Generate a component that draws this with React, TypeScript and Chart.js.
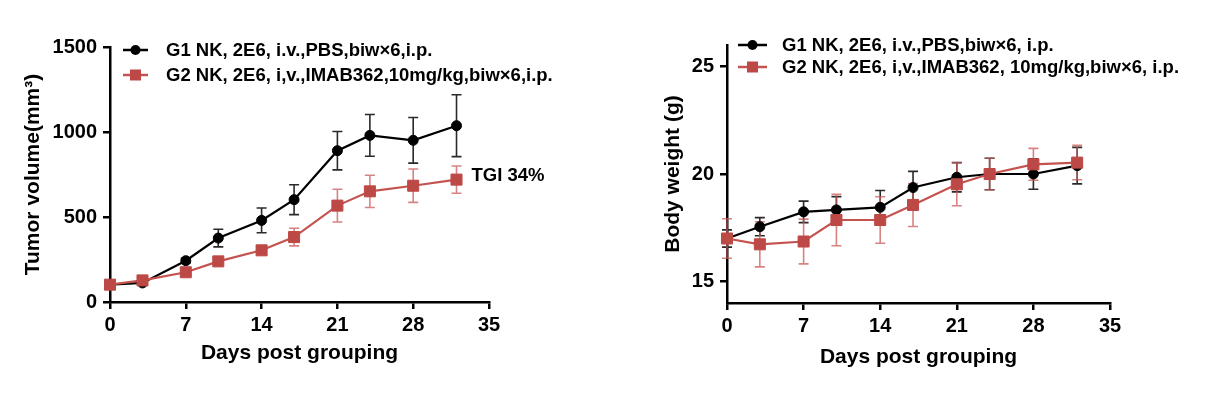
import React, { useEffect, useRef } from "react";
import { Chart, registerables } from "chart.js";

Chart.register(...registerables);

// ---------- data ----------
const DAYS = [0, 3, 7, 10, 14, 17, 21, 24, 28, 32];

const TUMOR_G1 = [102, 112, 243, 376, 480, 602, 890, 980, 951, 1037];
const TUMOR_G1_SEM = [8, 10, 14, 52, 73, 88, 113, 123, 134, 182];
const TUMOR_G2 = [102, 127, 175, 239, 304, 382, 567, 651, 684, 720];
const TUMOR_G2_SEM = [10, 12, 15, 16, 18, 52, 96, 95, 98, 80];

const BODY_G1 = [17.0, 17.55, 18.24, 18.33, 18.45, 19.37, 19.85, 20.0, 20.0, 20.39];
const BODY_G1_SEM = [0.4, 0.42, 0.5, 0.62, 0.78, 0.75, 0.68, 0.73, 0.71, 0.85];
const BODY_G2 = [17.0, 16.73, 16.86, 17.86, 17.86, 18.56, 19.52, 20.0, 20.45, 20.53];
const BODY_G2_SEM = [0.92, 1.05, 1.04, 1.2, 1.08, 1.0, 1.0, 0.73, 0.74, 0.8];

const X_TICKS = [0, 7, 14, 21, 28, 35];
const TUMOR_TICKS = [0, 500, 1000, 1500];
const BODY_TICKS = [15, 20, 25];

const LEFT_G1_LABEL = "G1 NK, 2E6, i.v.,PBS,biw×6,i.p.";
const LEFT_G2_LABEL = "G2 NK, 2E6, i,v.,IMAB362,10mg/kg,biw×6,i.p.";
const RIGHT_G1_LABEL = "G1 NK, 2E6, i.v.,PBS,biw×6, i.p.";
const RIGHT_G2_LABEL = "G2 NK, 2E6, i,v.,IMAB362, 10mg/kg,biw×6, i.p.";

const X_TITLE = "Days post grouping";
const LEFT_Y_TITLE = "Tumor volume(mm³)";
const RIGHT_Y_TITLE = "Body weight (g)";
const TGI_TEXT = "TGI 34%";
const TGI_ANCHOR = { x: 32, y: 740 };

// ---------- styles ----------
const FONT = '"Liberation Sans", Arial, Helvetica, sans-serif';
const BLACK = "#000000";
const RED_LINE = "#C4524F";
const RED_MARK = "#BD4946";
const RED_ERR = "rgba(200,90,88,0.75)";
const BLACK_ERR = "#2a2a2a";

const errorBarPlugin = {
  id: "errorBars",
  beforeDatasetsDraw(chart: any) {
    const { ctx } = chart;
    const xs = chart.scales.x;
    const ys = chart.scales.y;
    chart.data.datasets.forEach((ds: any) => {
      const errs = ds.errors;
      if (!errs) return;
      ctx.save();
      ctx.strokeStyle = ds.errorColor;
      ctx.lineWidth = 1.6;
      ds.data.forEach((p: any, i: number) => {
        const x = xs.getPixelForValue(p.x);
        const yT = ys.getPixelForValue(p.y + errs[i]);
        const yB = ys.getPixelForValue(p.y - errs[i]);
        ctx.beginPath();
        ctx.moveTo(x, yT);
        ctx.lineTo(x, yB);
        ctx.moveTo(x - 5, yT);
        ctx.lineTo(x + 5, yT);
        ctx.moveTo(x - 5, yB);
        ctx.lineTo(x + 5, yB);
        ctx.stroke();
      });
      ctx.restore();
    });
  },
};

const legendPlugin = {
  id: "markLegend",
  afterDraw(chart: any, _args: any, opts: any) {
    if (!opts || !opts.show) return;
    const { ctx } = chart;
    const ca = chart.chartArea;
    chart.data.datasets.forEach((ds: any, i: number) => {
      const y = ca.top + opts.top + i * opts.gap;
      const x0 = ca.left + opts.lineStart;
      const cx = x0 + opts.lineLen / 2;
      ctx.save();
      ctx.strokeStyle = ds.borderColor;
      ctx.lineWidth = 2.5;
      ctx.beginPath();
      ctx.moveTo(x0, y);
      ctx.lineTo(x0 + opts.lineLen, y);
      ctx.stroke();
      ctx.fillStyle = ds.pointBackgroundColor;
      if (ds.pointStyle === "rect") {
        ctx.fillRect(cx - 5.5, y - 5.5, 11, 11);
      } else {
        ctx.beginPath();
        ctx.arc(cx, y, 5, 0, Math.PI * 2);
        ctx.fill();
      }
      ctx.font = `bold ${opts.fontSize}px ${FONT}`;
      ctx.fillStyle = BLACK;
      ctx.textBaseline = "middle";
      ctx.textAlign = "left";
      ctx.fillText(ds.label, ca.left + opts.textStart, y + 1);
      ctx.restore();
    });
  },
};

const annotPlugin = {
  id: "annot",
  afterDraw(chart: any, _args: any, opts: any) {
    if (!opts || !opts.text) return;
    const { ctx } = chart;
    const x = chart.scales.x.getPixelForValue(opts.x) + opts.dx;
    const y = chart.scales.y.getPixelForValue(opts.y);
    ctx.save();
    ctx.font = `bold ${opts.fontSize}px ${FONT}`;
    ctx.fillStyle = BLACK;
    ctx.textBaseline = "middle";
    ctx.textAlign = "left";
    ctx.fillText(opts.text, x, y);
    ctx.restore();
  },
};

function makeDataset(label: string, ys: number[], errs: number[], isRed: boolean) {
  return {
    label,
    data: DAYS.map((d, i) => ({ x: d, y: ys[i] })),
    errors: errs,
    errorColor: isRed ? RED_ERR : BLACK_ERR,
    borderColor: isRed ? RED_LINE : BLACK,
    backgroundColor: isRed ? RED_MARK : BLACK,
    pointBackgroundColor: isRed ? RED_MARK : BLACK,
    pointBorderColor: isRed ? RED_MARK : BLACK,
    pointBorderWidth: 1,
    pointStyle: isRed ? "rect" : "circle",
    pointRadius: isRed ? 7.8 : 5,
    borderWidth: 2.2,
    tension: 0,
    fill: false,
    clip: false,
    order: isRed ? 0 : 1,
  };
}

function buildConfig(p: any) {
  const tickFont = { family: FONT, size: 20, weight: "bold" };
  return {
    type: "line",
    data: {
      datasets: [
        makeDataset(p.g1Label, p.g1, p.g1Err, false),
        makeDataset(p.g2Label, p.g2, p.g2Err, true),
      ],
    },
    options: {
      responsive: false,
      animation: false,
      devicePixelRatio: 1,
      layout: { padding: { top: p.padTop, right: p.padRight, bottom: 0, left: 0 } },
      plugins: {
        legend: { display: false },
        tooltip: { enabled: false },
        markLegend: p.legend,
        annot: p.annot || {},
      },
      scales: {
        x: {
          type: "linear",
          min: 0,
          max: 35,
          afterBuildTicks: (s: any) => {
            s.ticks = X_TICKS.map((v) => ({ value: v }));
          },
          afterFit: (s: any) => {
            s.height = p.xHeight;
          },
          ticks: {
            color: BLACK,
            font: tickFont,
            padding: 4,
            maxRotation: 0,
            autoSkip: false,
            callback: (v: any) => String(v),
          },
          grid: {
            display: true,
            drawOnChartArea: false,
            drawTicks: true,
            tickLength: 7,
            color: BLACK,
            lineWidth: 2.5,
          },
          border: { display: true, color: BLACK, width: 2.5 },
          title: {
            display: true,
            text: X_TITLE,
            color: BLACK,
            font: { family: FONT, size: 21, weight: "bold" },
            padding: { top: 0, bottom: p.xTitlePad },
          },
        },
        y: {
          type: "linear",
          min: p.yMin,
          max: p.yMax,
          afterBuildTicks: (s: any) => {
            s.ticks = p.yTicks.map((v: number) => ({ value: v }));
          },
          afterFit: (s: any) => {
            s.width = p.yWidth;
          },
          ticks: {
            color: BLACK,
            font: tickFont,
            padding: 6,
            autoSkip: false,
            callback: (v: any) => String(v),
          },
          grid: {
            display: true,
            drawOnChartArea: false,
            drawTicks: true,
            tickLength: 7,
            color: BLACK,
            lineWidth: 2.5,
          },
          border: { display: true, color: BLACK, width: 2.5 },
          title: {
            display: true,
            text: p.yTitle,
            color: BLACK,
            font: { family: FONT, size: 21, weight: "bold" },
            padding: { top: p.yTitlePad, bottom: 0 },
          },
        },
      },
    },
    plugins: [errorBarPlugin, legendPlugin, annotPlugin],
  };
}

export default function App() {
  const leftRef = useRef<HTMLCanvasElement | null>(null);
  const rightRef = useRef<HTMLCanvasElement | null>(null);

  useEffect(() => {
    const left = new Chart(
      leftRef.current as HTMLCanvasElement,
      buildConfig({
        g1Label: LEFT_G1_LABEL,
        g2Label: LEFT_G2_LABEL,
        g1: TUMOR_G1,
        g1Err: TUMOR_G1_SEM,
        g2: TUMOR_G2,
        g2Err: TUMOR_G2_SEM,
        yMin: 0,
        yMax: 1500,
        yTicks: TUMOR_TICKS,
        yTitle: LEFT_Y_TITLE,
        padTop: 47,
        padRight: 127,
        xHeight: 95,
        yWidth: 110,
        xTitlePad: 31,
        yTitlePad: 21,
        legend: { show: true, top: 3, gap: 25, lineStart: 13, lineLen: 25, textStart: 56, fontSize: 18.5 },
        annot: { text: TGI_TEXT, x: TGI_ANCHOR.x, y: TGI_ANCHOR.y, dx: 15, fontSize: 18.5 },
      }) as any
    );
    const right = new Chart(
      rightRef.current as HTMLCanvasElement,
      buildConfig({
        g1Label: RIGHT_G1_LABEL,
        g2Label: RIGHT_G2_LABEL,
        g1: BODY_G1,
        g1Err: BODY_G1_SEM,
        g2: BODY_G2,
        g2Err: BODY_G2_SEM,
        yMin: 14,
        yMax: 26,
        yTicks: BODY_TICKS,
        yTitle: RIGHT_Y_TITLE,
        padTop: 45,
        padRight: 122,
        xHeight: 94,
        yWidth: 111,
        xTitlePad: 27,
        yTitlePad: 45,
        legend: { show: true, top: 0, gap: 22, lineStart: 11, lineLen: 29, textStart: 55, fontSize: 18.5 },
      }) as any
    );
    return () => {
      left.destroy();
      right.destroy();
    };
  }, []);

  return (
    <div style={{ position: "absolute", left: 0, top: 0, width: 1232, height: 397, background: "#fff" }}>
      <canvas
        ref={leftRef}
        width={616}
        height={397}
        style={{ position: "absolute", left: 0, top: 0, width: 616, height: 397 }}
      />
      <canvas
        ref={rightRef}
        width={616}
        height={397}
        style={{ position: "absolute", left: 616, top: 0, width: 616, height: 397 }}
      />
    </div>
  );
}
